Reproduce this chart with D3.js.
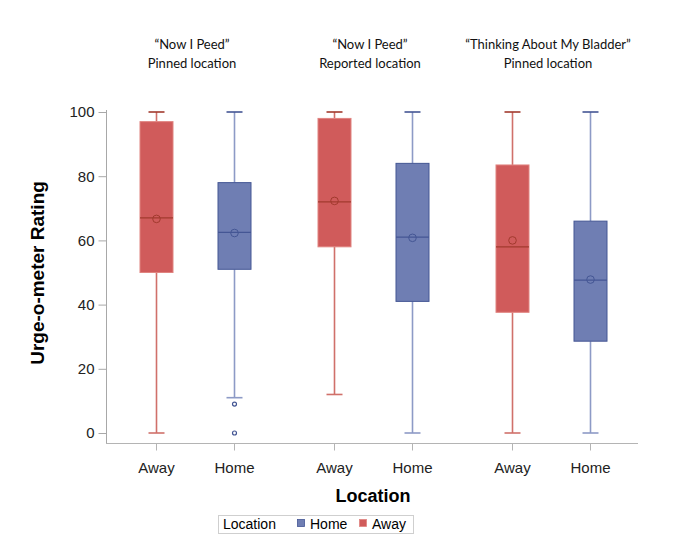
<!DOCTYPE html>
<html>
<head>
<meta charset="utf-8">
<script src="https://cdn.jsdelivr.net/npm/d3@7"></script>
<style>
  body { margin: 0; background: #fff; }
  text { font-family: "Liberation Sans", Arial, sans-serif; }
</style>
</head>
<body>
<div id="chart"></div>
<script>
// panels across the top, each holds Away + Home boxes
const panelLines = [
  ["\u201CNow I Peed\u201D", "Pinned location"],
  ["\u201CNow I Peed\u201D", "Reported location"],
  ["\u201CThinking About My Bladder\u201D", "Pinned location"]
];
const panels = [0, 1, 2];
const locations = ["Away", "Home"];

// box stats, per panel, per location
const awayStats = [
  { min: 0,  q1: 50,   median: 67,   q3: 97,   max: 100, mean: 66.7 },
  { min: 12, q1: 58,   median: 72,   q3: 98,   max: 100, mean: 72.3 },
  { min: 0,  q1: 37.6, median: 58,   q3: 83.5, max: 100, mean: 60 }
];
const homeStats = [
  { min: 11, q1: 51,   median: 62.5, q3: 78,   max: 100, mean: 62.3 },
  { min: 0,  q1: 41,   median: 61,   q3: 84,   max: 100, mean: 60.8 },
  { min: 0,  q1: 28.6, median: 47.6, q3: 66,   max: 100, mean: 47.8 }
];
const homeOutliers = [[9, 0], [], []];
const awayOutliers = [[], [], []];

const yTicks = [0, 20, 40, 60, 80, 100];

const colors = {
  Away: { fill: "#d05b5b", line: "#a23a2e", whisk: "#d0706a", edge: "#e08480" },
  Home: { fill: "#6f7eb3", line: "#445694", whisk: "#8d9ac6", edge: "#445694" }
};

let svg = d3.select("#chart").append("svg")
  .attr("width", 697)
  .attr("height", 556);

let x0 = d3.scaleBand().domain(panels).range([106, 640]);
let x1 = d3.scalePoint().domain(locations).range([0, x0.bandwidth()]).padding(0.641);
let y = d3.scaleLinear().domain([0, 100]).range([433, 112]);

const boxW = 33;

// axes
let yAxis = svg.append("g")
  .attr("transform", "translate(106.5,0)")
  .call(d3.axisLeft(y).tickValues(yTicks).tickSize(8).tickPadding(4));
yAxis.select(".domain").attr("d", "M0,110V443.5").attr("stroke", "#a8a8a8");
yAxis.selectAll(".tick line").attr("stroke", "#a8a8a8");
yAxis.selectAll(".tick text").attr("font-size", 15).attr("fill", "#222");

let xg = svg.append("g").attr("transform", "translate(0,443.5)");
xg.append("line").attr("x1", 106).attr("x2", 638).attr("stroke", "#b4b4b4");
panels.forEach(p => {
  locations.forEach(loc => {
    let cx = Math.round(x0(p) + x1(loc)) + 0.5;
    xg.append("line").attr("x1", cx).attr("x2", cx).attr("y1", 0).attr("y2", 7).attr("stroke", "#b4b4b4");
    xg.append("text").attr("x", cx).attr("y", 29)
      .attr("text-anchor", "middle").attr("font-size", 15).attr("fill", "#222")
      .text(loc);
  });
});

// axis titles
svg.append("text")
  .attr("transform", "translate(44,273) rotate(-90)")
  .attr("text-anchor", "middle")
  .attr("font-size", 19).attr("font-weight", "bold")
  .text("Urge-o-meter Rating");

svg.append("text")
  .attr("x", 373).attr("y", 502)
  .attr("text-anchor", "middle")
  .attr("font-size", 18).attr("font-weight", "bold")
  .text("Location");

// panel titles
panels.forEach(p => {
  let t = svg.append("text")
    .attr("text-anchor", "middle")
    .style("font-family", "Lato, 'Open Sans', sans-serif")
    .attr("font-size", 13).attr("fill", "#111");
  panelLines[p].forEach((line, i) => {
    t.append("tspan").attr("x", x0(p) + x0.bandwidth() / 2 - 3).attr("y", 49 + i * 19).text(line);
  });
});

// boxes
function drawBox(p, loc, s, outl) {
  let c = colors[loc];
  let cx = Math.round(x0(p) + x1(loc)) + 0.5;
  let g = svg.append("g");
  // whiskers
  g.append("line").attr("x1", cx).attr("x2", cx).attr("y1", y(s.max)).attr("y2", y(s.q3))
    .attr("stroke", c.whisk).attr("stroke-width", 1.6);
  g.append("line").attr("x1", cx).attr("x2", cx).attr("y1", y(s.q1)).attr("y2", y(s.min))
    .attr("stroke", c.whisk).attr("stroke-width", 1.6);
  // caps
  g.append("line").attr("x1", cx - 8).attr("x2", cx + 8).attr("y1", y(s.max)).attr("y2", y(s.max))
    .attr("stroke", c.line).attr("stroke-width", 1.6);
  g.append("line").attr("x1", cx - 8).attr("x2", cx + 8).attr("y1", y(s.min)).attr("y2", y(s.min))
    .attr("stroke", c.whisk).attr("stroke-width", 1.6);
  // box
  g.append("rect")
    .attr("x", cx - boxW / 2).attr("y", y(s.q3))
    .attr("width", boxW).attr("height", y(s.q1) - y(s.q3))
    .attr("fill", c.fill).attr("stroke", c.edge).attr("stroke-width", 1);
  // median
  g.append("line").attr("x1", cx - boxW / 2).attr("x2", cx + boxW / 2)
    .attr("y1", y(s.median)).attr("y2", y(s.median))
    .attr("stroke", c.line).attr("stroke-width", 1.2);
  // mean
  g.append("circle").attr("cx", cx).attr("cy", y(s.mean)).attr("r", 3.8)
    .attr("fill", "none").attr("stroke", c.line).attr("stroke-width", 1);
  // outliers
  g.selectAll(".out").data(outl).enter().append("circle")
    .attr("cx", cx).attr("cy", d => y(d)).attr("r", 2)
    .attr("fill", "none").attr("stroke", c.line).attr("stroke-width", 1.2);
}

panels.forEach(p => {
  drawBox(p, "Away", awayStats[p], awayOutliers[p]);
  drawBox(p, "Home", homeStats[p], homeOutliers[p]);
});

// legend
let lg = svg.append("g");
lg.append("rect").attr("x", 218.5).attr("y", 515.5).attr("width", 195).attr("height", 18)
  .attr("fill", "#fff").attr("stroke", "#cfcfcf");
lg.append("text").attr("x", 223).attr("y", 529).attr("font-size", 14).text("Location");
const legendItems = [["Home", 297], ["Away", 359]];
legendItems.forEach(([loc, lx]) => {
  lg.append("rect").attr("x", lx + 0.5).attr("y", 519.5).attr("width", 7).attr("height", 7)
    .attr("fill", colors[loc].fill).attr("stroke", colors[loc].edge).attr("stroke-width", 0.8);
  lg.append("text").attr("x", lx + 13).attr("y", 529).attr("font-size", 14).text(loc);
});
</script>
</body>
</html>
